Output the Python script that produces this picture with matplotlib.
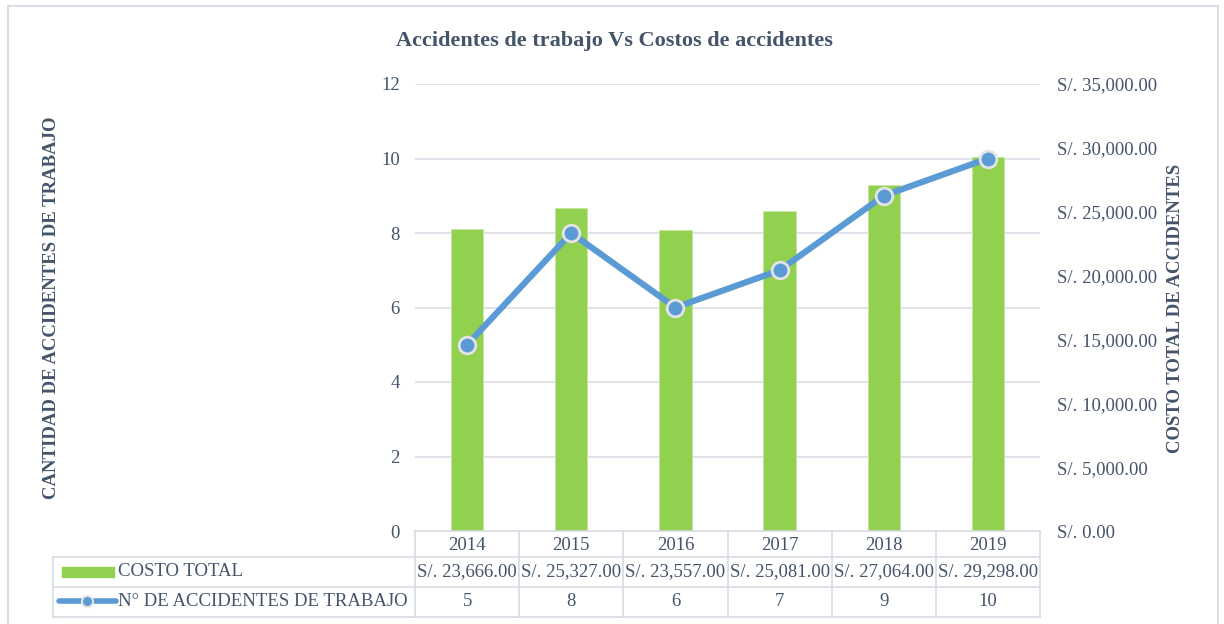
import matplotlib.pyplot as plt
import matplotlib.transforms as mtransforms
from matplotlib.lines import Line2D
from matplotlib.patches import Rectangle
import numpy as np

years = ['2014', '2015', '2016', '2017', '2018', '2019']
costo = [23666, 25327, 23557, 25081, 27064, 29298]
accidentes = [5, 8, 6, 7, 9, 10]
costo_txt = ['S/. 23,666.00', 'S/. 25,327.00', 'S/. 23,557.00',
             'S/. 25,081.00', 'S/. 27,064.00', 'S/. 29,298.00']

plt.rcParams['font.family'] = ['Liberation Serif', 'DejaVu Serif']
txt = '#44546A'
grid = '#D9DEE6'
green = '#92D050'
blue = '#5B9BD5'
fs = 13.5

fig = plt.figure(figsize=(12.24, 6.24), dpi=100)
W, H = 1224, 624
ax = fig.add_axes([415 / W, 1 - 531 / H, 625 / W, 447 / H])
ax2 = ax.twinx()

x = np.arange(len(years))

# gridlines (drawn on ax2 so they stay behind the bars)
for yv in range(2, 13, 2):
    ax2.axhline(yv * 35000 / 12, color=grid, lw=1.2, zorder=0)

# bars on secondary axis, line on primary
ax2.bar(x, costo, width=0.31, color=green, edgecolor='#C5E6A0', linewidth=0.6, zorder=2)
ax2.set_ylim(0, 35000)
ax2.set_yticks(np.arange(0, 35001, 5000))
ax2.set_yticklabels(['S/. {:,.2f}'.format(v) for v in np.arange(0, 35001, 5000)])

ax.set_ylim(0, 12)
ax.set_yticks(range(0, 13, 2))
ax.set_xlim(-0.5, 5.5)
ax.set_xticks([])
ax.set_zorder(ax2.get_zorder() + 1)
ax.patch.set_visible(False)
ax2.patch.set_visible(False)

ax.plot(x, accidentes, color=blue, lw=4.5, marker='o', markersize=12,
        markerfacecolor=blue, markeredgecolor='#E4E4E4', markeredgewidth=2, zorder=3)

for a in (ax, ax2):
    for s in a.spines.values():
        s.set_visible(False)
    a.tick_params(length=0, labelsize=fs, colors=txt)
ax.tick_params(axis='y', pad=11)
ax2.tick_params(axis='y', pad=12)

fig.text(614 / W, 1 - 41 / H, 'Accidentes de trabajo Vs Costos de accidentes',
         ha='center', va='center', fontsize=16, fontweight='bold', color=txt)
fig.text(52 / W, 1 - 308 / H, 'CANTIDAD DE ACCIDENTES DE TRABAJO', rotation=90,
         ha='center', va='center', fontsize=fs, fontweight='bold', color=txt)
fig.text(1176 / W, 1 - 308 / H, 'COSTO TOTAL DE ACCIDENTES', rotation=90,
         ha='center', va='center', fontsize=fs, fontweight='bold', color=txt)

# data table below the plot
bt = mtransforms.blended_transform_factory(ax.transData, fig.transFigure)
def fy(p):
    return 1 - p / H
rows = [531, 557, 587, 617]
lc = '#D6DCE4'
for i in range(len(years) + 1):
    fig.add_artist(Line2D([i - 0.5, i - 0.5], [fy(531), fy(617)], transform=bt,
                          color=lc, lw=1.2, clip_on=False))
fig.add_artist(Line2D([53 / W, 53 / W], [fy(557), fy(617)], color=lc, lw=1.2))
fig.add_artist(Line2D([-0.5, 5.5], [fy(531), fy(531)], transform=bt, color=lc, lw=1.2, clip_on=False))
for r in rows[1:]:
    fig.add_artist(Line2D([53 / W, 1040 / W], [fy(r), fy(r)], color=lc, lw=1.2))
for i in range(len(years)):
    fig.text(i, fy(545), years[i], transform=bt, ha='center', va='center', fontsize=fs, color=txt)
    fig.text(i, fy(572), costo_txt[i], transform=bt, ha='center', va='center', fontsize=fs, color=txt)
    fig.text(i, fy(602), str(accidentes[i]), transform=bt, ha='center', va='center', fontsize=fs, color=txt)

fig.add_artist(Rectangle((62 / W, fy(577)), 52 / W, 10 / H, color=green))
fig.text(118 / W, fy(572), 'COSTO TOTAL', ha='left', va='center', fontsize=fs, color=txt)
fig.add_artist(Line2D([59 / W, 116 / W], [fy(601), fy(601)], color=blue, lw=4,
                      solid_capstyle='round'))
fig.add_artist(Line2D([87 / W], [fy(601)], color=blue, marker='o', markersize=8,
                      markerfacecolor=blue, markeredgecolor='#E4E4E4', markeredgewidth=1.5, lw=0))
fig.text(118 / W, fy(602), 'N° DE ACCIDENTES DE TRABAJO', ha='left', va='center', fontsize=fs, color=txt)

# outer border
fig.add_artist(Rectangle((8 / W, -0.05), 1210 / W, 1.05 - 6 / H, fill=False, edgecolor='#D9DEE6', lw=1.5))

fig.savefig('out.png', dpi=100)
